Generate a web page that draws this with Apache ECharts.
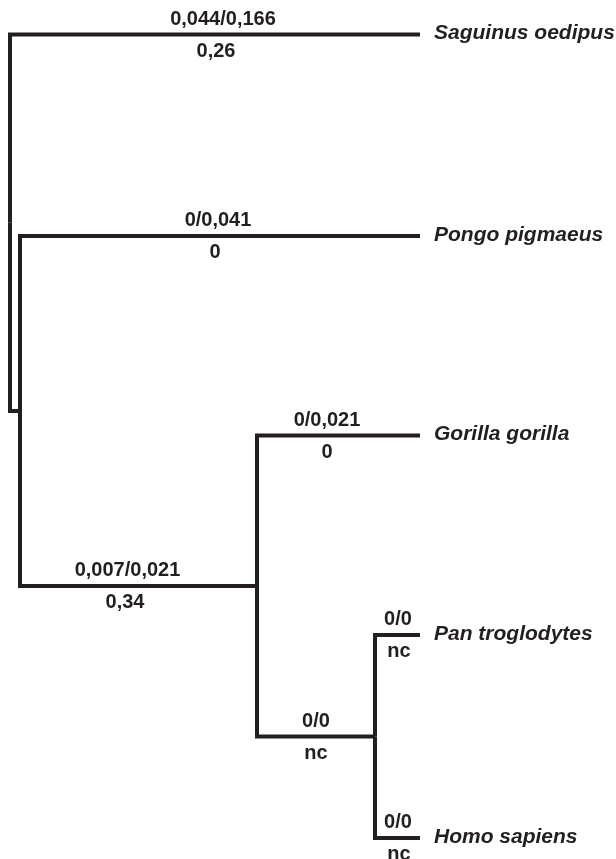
<!DOCTYPE html>
<html><head><meta charset="utf-8">
<script src="https://cdn.jsdelivr.net/npm/echarts@6/dist/echarts.min.js"></script>
<style>html,body{margin:0;padding:0;background:#fff}#c{width:616px;height:859px}</style>
</head><body><div id="c"></div>
<script>
// ---- Tree data ----
const nodeIds     = ['root', 'apes', 'hominines', 'panHomo', 'Saguinus oedipus', 'Pongo pigmaeus', 'Gorilla gorilla', 'Pan troglodytes', 'Homo sapiens'];
const nodeParent  = [null, 'root', 'apes', 'hominines', 'root', 'apes', 'hominines', 'panHomo', 'panHomo'];
const nodeDepth   = [10, 20, 257, 375, 420, 420, 420, 420, 420];
const taxa        = ['Saguinus oedipus', 'Pongo pigmaeus', 'Gorilla gorilla', 'Pan troglodytes', 'Homo sapiens'];
const tipRow      = [34.5, 236, 435.5, 635, 838];
// branch labels (keyed by the child node of each branch)
const branchNodes = ['Saguinus oedipus', 'Pongo pigmaeus', 'hominines', 'Gorilla gorilla', 'panHomo', 'Pan troglodytes', 'Homo sapiens'];
const branchAbove = ['0,044/0,166', '0/0,041', '0,007/0,021', '0/0,021', '0/0', '0/0', '0/0'];
const branchBelow = ['0,26', '0', '0,34', '0', 'nc', 'nc', 'nc'];

// ---- style config ----
const INK = '#231f20';
const labelShiftAbove = [8, -2, -11, -11.5, 0, 0.5, 0.5];
const labelShiftBelow = [1, -5, -13.5, -11.5, 0, 1.5, 1.5];

// ---- derive node coordinates ----
const idx = id => nodeIds.indexOf(id);
const nodeY = {};
function yOf(id) {
  if (nodeY[id] !== undefined) return nodeY[id];
  const t = taxa.indexOf(id);
  if (t >= 0) return (nodeY[id] = tipRow[t]);
  const kids = nodeIds.filter((n, i) => nodeParent[i] === id).map(yOf);
  return (nodeY[id] = (Math.min(...kids) + Math.max(...kids)) / 2);
}
nodeIds.forEach(yOf);

const edges = [];
nodeIds.forEach((id, i) => {
  const p = nodeParent[i];
  if (!p) return;
  edges.push([nodeDepth[idx(p)], nodeY[p], nodeDepth[i], nodeY[id]]);
});

const labels = []; // [x, y, text, kind]
branchNodes.forEach((id, b) => {
  const i = idx(id);
  const px = nodeDepth[idx(nodeParent[i])];
  const mid = (px + nodeDepth[i]) / 2;
  labels.push([mid, nodeY[id], branchAbove[b], 'above', labelShiftAbove[b]]);
  labels.push([mid, nodeY[id], branchBelow[b], 'below', labelShiftBelow[b]]);
});
taxa.forEach((t, k) => labels.push([nodeDepth[idx(t)], tipRow[k], t, 'taxon', 0]));

const chart = echarts.init(document.getElementById('c'), null, {renderer: 'canvas'});
chart.setOption({
  backgroundColor: '#fff',
  animation: false,
  grid: {left: 0, right: 0, top: 0, bottom: 0},
  xAxis: {type: 'value', min: 0, max: 616, show: false},
  yAxis: {type: 'value', min: 0, max: 859, inverse: true, show: false},
  series: [
    {
      type: 'custom',
      silent: true,
      data: edges.map(e => e.slice()),
      encode: {x: [0, 2], y: [1, 3]},
      renderItem: (params, api) => {
        const e = edges[params.dataIndex];
        const a = api.coord([e[0], e[1]]);
        const b = api.coord([e[0], e[3]]);
        const c = api.coord([e[2], e[3]]);
        return {
          type: 'polyline',
          shape: {points: [a, b, c]},
          style: {stroke: INK, lineWidth: 4, fill: null, lineJoin: 'miter', lineCap: 'butt'}
        };
      }
    },
    {
      type: 'custom',
      silent: true,
      data: labels.map(l => [l[0], l[1]]),
      encode: {x: 0, y: 1},
      renderItem: (params, api) => {
        const l = labels[params.dataIndex];
        const p = api.coord([l[0], l[1]]);
        if (l[3] === 'taxon') {
          return {
            type: 'text', x: p[0] + 14, y: p[1] - 1,
            style: {text: l[2], fill: INK, fontFamily: 'Liberation Sans, Arial, sans-serif',
                    fontSize: 21, fontWeight: 'bold', fontStyle: 'italic', align: 'left', verticalAlign: 'middle'}
          };
        }
        const dy = l[3] === 'above' ? -15.5 : 16.5;
        return {
          type: 'text', x: p[0] + l[4], y: p[1] + dy,
          style: {text: l[2], fill: INK, fontFamily: 'Liberation Sans, Arial, sans-serif',
                  fontSize: 20, fontWeight: 'bold', align: 'center', verticalAlign: 'middle'}
        };
      }
    }
  ]
});
</script></body></html>
